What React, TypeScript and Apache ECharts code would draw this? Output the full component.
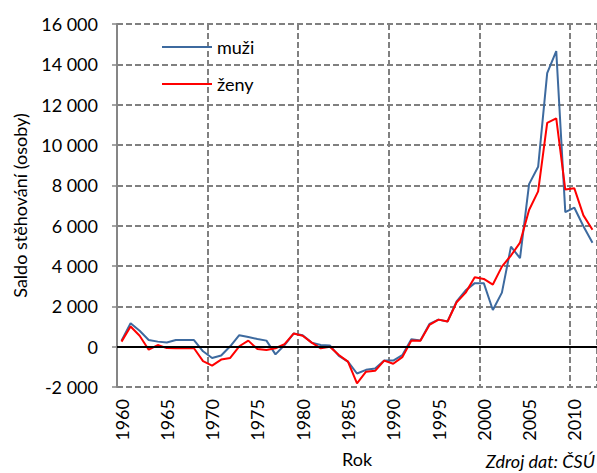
import React, { useEffect, useRef } from "react";
import * as echarts from "echarts";

const years: string[] = [];
for (let y = 1960; y <= 2012; y++) years.push(String(y));

const muzi = [
  300, 1160, 790, 330, 250, 210, 330, 330, 330, -230,
  -560, -440, 20, 570, 480, 380, 300, -380, 80, 650,
  570, 200, 80, 60, -460, -740, -1330, -1150, -1080, -690,
  -690, -420, 370, 310, 1130, 1340, 1250, 2240, 2790, 3150,
  3150, 1820, 2680, 4960, 4390, 8060, 8920, 13560, 14660, 6670,
  6890, 5970, 5150,
];

const zeny = [
  250, 1000, 540, -150, 80, -70, -80, -80, -80, -720,
  -940, -640, -560, 20, 300, -120, -160, -80, 130, 650,
  540, 200, -80, 0, -410, -740, -1820, -1240, -1200, -690,
  -850, -520, 300, 290, 1080, 1340, 1250, 2200, 2680, 3440,
  3360, 3080, 3970, 4520, 5160, 6780, 7700, 11100, 11320, 7790,
  7850, 6510, 5800,
];

const seriesNames = ["muži", "ženy"];
const FONT = "Lato";

function fmt(v: number): string {
  const s = String(Math.abs(v));
  const withSpace = s.replace(/\B(?=(\d{3})+(?!\d))/g, " ");
  return (v < 0 ? "-" : "") + withSpace;
}

export default function App() {
  const ref = useRef<HTMLDivElement>(null);
  useEffect(() => {
    if (!ref.current) return;
    const chart = echarts.init(ref.current, undefined, { renderer: "svg" });
    const gridLine = { color: "#808080", width: 2, type: [6, 3] as number[] };
    chart.setOption({
      animation: false,
      backgroundColor: "#fff",
      grid: { left: 117, top: 24, width: 482, height: 366, containLabel: false },
      legend: {
        data: seriesNames,
        orient: "vertical",
        left: 157,
        top: 33,
        icon: "rect",
        itemWidth: 50,
        itemHeight: 2,
        itemGap: 19,
        textStyle: { fontFamily: FONT, fontSize: 18, color: "#000" },
      },
      xAxis: {
        type: "category",
        data: years,
        boundaryGap: true,
        name: "Rok",
        nameLocation: "middle",
        nameGap: 63,
        nameTextStyle: { fontFamily: FONT, fontSize: 18, color: "#000" },
        axisLine: { show: false },
        axisTick: { show: false },
        axisLabel: {
          interval: (i: number) => i % 5 === 0,
          rotate: 90,
          margin: 12,
          fontFamily: FONT,
          fontSize: 18,
          color: "#000",
        },
        splitLine: {
          show: true,
          interval: (i: number) => i > 0 && i % 10 === 0,
          lineStyle: gridLine,
        },
      },
      yAxis: {
        type: "value",
        min: -2000,
        max: 16000,
        interval: 2000,
        name: "Saldo stěhování (osoby)",
        nameLocation: "middle",
        nameGap: 88,
        nameTextStyle: { fontFamily: FONT, fontSize: 18, color: "#000" },
        axisLine: { show: true, onZero: false, lineStyle: { color: "#868686", width: 2 } },
        axisTick: { show: true, length: 5, lineStyle: { color: "#868686", width: 1.5 } },
        axisLabel: {
          margin: 19,
          fontFamily: FONT,
          fontSize: 18,
          color: "#000",
          formatter: (v: number) => fmt(v),
        },
        splitLine: { show: true, lineStyle: gridLine },
      },
      series: [
        {
          name: seriesNames[0],
          type: "line",
          data: muzi,
          symbol: "none",
          lineStyle: { color: "#3D6A9F", width: 2 },
          itemStyle: { color: "#3D6A9F" },
          markLine: {
            silent: true,
            symbol: ["none", "none"],
            label: { show: false },
            lineStyle: { color: "#000", width: 2, type: "solid" },
            data: [{ yAxis: 0 }],
          },
        },
        {
          name: seriesNames[1],
          type: "line",
          data: zeny,
          symbol: "none",
          lineStyle: { color: "#FF0000", width: 2 },
          itemStyle: { color: "#FF0000" },
        },
      ],
      graphic: [
        {
          type: "text",
          right: 2,
          top: 452,
          style: {
            text: "Zdroj dat: ČSÚ",
            fontFamily: FONT,
            fontSize: 18,
            fontStyle: "italic",
            fill: "#000",
          },
        },
      ],
    });
    return () => chart.dispose();
  }, []);
  return (
    <div
      ref={ref}
      style={{ position: "fixed", left: 0, top: 0, width: 597, height: 473 }}
    />
  );
}
